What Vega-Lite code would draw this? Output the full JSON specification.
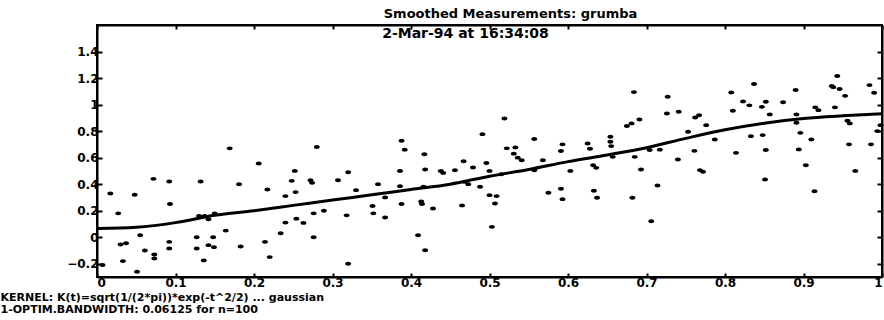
{
  "$schema": "https://vega.github.io/schema/vega-lite/v6.json",
  "width": 785,
  "height": 252,
  "autosize": {"type": "none"},
  "padding": {"left": 97, "top": 25, "right": 2, "bottom": 43},
  "background": "white",
  "title": {
    "text": "Smoothed Measurements: grumba",
    "anchor": "middle",
    "font": "DejaVu Sans",
    "fontSize": 13,
    "fontWeight": "bold",
    "color": "black",
    "dx": 21,
    "offset": 3
  },
  "config": {
    "view": {"stroke": "black", "strokeWidth": 2},
    "axis": {
      "grid": false,
      "domainColor": "black",
      "domainWidth": 2,
      "tickColor": "black",
      "tickWidth": 2,
      "labelFont": "DejaVu Sans",
      "labelFontWeight": "bold",
      "labelFontSize": 12,
      "labelColor": "black"
    }
  },
  "datasets": {
    "obs": [
      {"x": 0.007, "y": -0.21}, {"x": 0.017, "y": 0.33}, {"x": 0.027, "y": 0.18}, {"x": 0.030, "y": -0.055},
      {"x": 0.037, "y": -0.045}, {"x": 0.033, "y": -0.18}, {"x": 0.048, "y": 0.32}, {"x": 0.051, "y": -0.26},
      {"x": 0.055, "y": 0.015}, {"x": 0.061, "y": -0.10}, {"x": 0.073, "y": -0.13}, {"x": 0.073, "y": -0.16},
      {"x": 0.072, "y": 0.44}, {"x": 0.092, "y": 0.42}, {"x": 0.093, "y": 0.25}, {"x": 0.092, "y": -0.035},
      {"x": 0.092, "y": -0.085}, {"x": 0.127, "y": 0.0}, {"x": 0.127, "y": -0.085}, {"x": 0.13, "y": 0.16},
      {"x": 0.137, "y": 0.16}, {"x": 0.132, "y": 0.42}, {"x": 0.136, "y": -0.175}, {"x": 0.142, "y": 0.135},
      {"x": 0.15, "y": 0.18}, {"x": 0.148, "y": 0.0}, {"x": 0.142, "y": -0.06}, {"x": 0.149, "y": -0.075},
      {"x": 0.164, "y": 0.05}, {"x": 0.169, "y": 0.67}, {"x": 0.181, "y": 0.40}, {"x": 0.183, "y": -0.07},
      {"x": 0.206, "y": 0.556}, {"x": 0.217, "y": 0.36}, {"x": 0.214, "y": -0.035}, {"x": 0.22, "y": -0.15},
      {"x": 0.234, "y": 0.03}, {"x": 0.24, "y": 0.31}, {"x": 0.24, "y": 0.11}, {"x": 0.248, "y": 0.425},
      {"x": 0.252, "y": 0.50}, {"x": 0.253, "y": 0.34}, {"x": 0.254, "y": 0.14}, {"x": 0.263, "y": 0.108},
      {"x": 0.272, "y": 0.43}, {"x": 0.274, "y": 0.41}, {"x": 0.276, "y": 0.18}, {"x": 0.276, "y": 0.0},
      {"x": 0.28, "y": 0.68}, {"x": 0.289, "y": 0.2}, {"x": 0.307, "y": 0.43}, {"x": 0.318, "y": 0.165},
      {"x": 0.32, "y": 0.49}, {"x": 0.32, "y": -0.2}, {"x": 0.33, "y": 0.355}, {"x": 0.351, "y": 0.235},
      {"x": 0.352, "y": 0.18}, {"x": 0.358, "y": 0.40}, {"x": 0.367, "y": 0.30}, {"x": 0.367, "y": 0.149},
      {"x": 0.386, "y": 0.50}, {"x": 0.388, "y": 0.727}, {"x": 0.392, "y": 0.66}, {"x": 0.386, "y": 0.385},
      {"x": 0.388, "y": 0.25}, {"x": 0.409, "y": 0.015}, {"x": 0.418, "y": -0.098}, {"x": 0.413, "y": 0.27},
      {"x": 0.414, "y": 0.25}, {"x": 0.417, "y": 0.626}, {"x": 0.418, "y": 0.51}, {"x": 0.416, "y": 0.38},
      {"x": 0.428, "y": 0.216}, {"x": 0.438, "y": 0.50}, {"x": 0.441, "y": 0.485}, {"x": 0.456, "y": 0.505},
      {"x": 0.467, "y": 0.573}, {"x": 0.465, "y": 0.24}, {"x": 0.469, "y": 0.417}, {"x": 0.473, "y": 0.40},
      {"x": 0.479, "y": 0.526}, {"x": 0.488, "y": 0.38}, {"x": 0.491, "y": 0.777}, {"x": 0.496, "y": 0.56},
      {"x": 0.50, "y": 0.50}, {"x": 0.50, "y": 0.317}, {"x": 0.509, "y": 0.31}, {"x": 0.507, "y": 0.254},
      {"x": 0.503, "y": 0.078}, {"x": 0.515, "y": 0.475}, {"x": 0.519, "y": 0.895}, {"x": 0.522, "y": 0.67},
      {"x": 0.533, "y": 0.677}, {"x": 0.531, "y": 0.63}, {"x": 0.536, "y": 0.60}, {"x": 0.541, "y": 0.58},
      {"x": 0.557, "y": 0.74}, {"x": 0.557, "y": 0.505}, {"x": 0.568, "y": 0.58}, {"x": 0.575, "y": 0.335},
      {"x": 0.591, "y": 0.65}, {"x": 0.593, "y": 0.70}, {"x": 0.591, "y": 0.365}, {"x": 0.593, "y": 0.287},
      {"x": 0.603, "y": 0.50}, {"x": 0.625, "y": 0.707}, {"x": 0.628, "y": 0.667}, {"x": 0.632, "y": 0.543},
      {"x": 0.636, "y": 0.523}, {"x": 0.633, "y": 0.35}, {"x": 0.637, "y": 0.297}, {"x": 0.654, "y": 0.757},
      {"x": 0.654, "y": 0.72}, {"x": 0.655, "y": 0.687}, {"x": 0.657, "y": 0.606}, {"x": 0.675, "y": 0.838},
      {"x": 0.681, "y": 0.858}, {"x": 0.691, "y": 0.888}, {"x": 0.684, "y": 1.094}, {"x": 0.685, "y": 0.606},
      {"x": 0.693, "y": 0.51}, {"x": 0.682, "y": 0.297}, {"x": 0.706, "y": 0.12}, {"x": 0.714, "y": 0.39},
      {"x": 0.717, "y": 0.66}, {"x": 0.727, "y": 1.059}, {"x": 0.726, "y": 0.933}, {"x": 0.704, "y": 0.657},
      {"x": 0.741, "y": 0.946}, {"x": 0.740, "y": 0.586}, {"x": 0.753, "y": 0.795}, {"x": 0.761, "y": 0.651},
      {"x": 0.762, "y": 0.903}, {"x": 0.767, "y": 0.92}, {"x": 0.768, "y": 0.506}, {"x": 0.772, "y": 0.493},
      {"x": 0.776, "y": 0.845}, {"x": 0.787, "y": 0.737}, {"x": 0.808, "y": 1.092}, {"x": 0.81, "y": 0.953},
      {"x": 0.814, "y": 0.636}, {"x": 0.823, "y": 1.024}, {"x": 0.831, "y": 0.994}, {"x": 0.833, "y": 0.762},
      {"x": 0.837, "y": 1.155}, {"x": 0.847, "y": 0.983}, {"x": 0.852, "y": 1.021}, {"x": 0.848, "y": 0.77},
      {"x": 0.852, "y": 0.657}, {"x": 0.851, "y": 0.435}, {"x": 0.857, "y": 0.926}, {"x": 0.874, "y": 1.017},
      {"x": 0.890, "y": 1.11}, {"x": 0.891, "y": 0.926}, {"x": 0.891, "y": 0.863}, {"x": 0.896, "y": 0.787},
      {"x": 0.894, "y": 0.662}, {"x": 0.903, "y": 0.543}, {"x": 0.910, "y": 0.737}, {"x": 0.914, "y": 0.347},
      {"x": 0.915, "y": 0.979}, {"x": 0.919, "y": 0.958}, {"x": 0.936, "y": 1.14}, {"x": 0.938, "y": 1.13},
      {"x": 0.943, "y": 1.215}, {"x": 0.946, "y": 1.117}, {"x": 0.953, "y": 1.066}, {"x": 0.940, "y": 0.979},
      {"x": 0.956, "y": 0.878}, {"x": 0.959, "y": 0.858}, {"x": 0.958, "y": 0.70}, {"x": 0.966, "y": 0.50},
      {"x": 0.984, "y": 1.147}, {"x": 0.99, "y": 1.089}, {"x": 0.986, "y": 0.70}, {"x": 0.994, "y": 0.80},
      {"x": 0.998, "y": 0.845}
    ],
    "smooth": [
      {"x": 0.0, "y": 0.065}, {"x": 0.05, "y": 0.075}, {"x": 0.1, "y": 0.11}, {"x": 0.15, "y": 0.165},
      {"x": 0.2, "y": 0.2}, {"x": 0.25, "y": 0.24}, {"x": 0.3, "y": 0.28}, {"x": 0.35, "y": 0.32},
      {"x": 0.4, "y": 0.36}, {"x": 0.45, "y": 0.4}, {"x": 0.5, "y": 0.46}, {"x": 0.55, "y": 0.51},
      {"x": 0.6, "y": 0.57}, {"x": 0.65, "y": 0.62}, {"x": 0.7, "y": 0.675}, {"x": 0.75, "y": 0.745},
      {"x": 0.8, "y": 0.81}, {"x": 0.85, "y": 0.86}, {"x": 0.9, "y": 0.895}, {"x": 0.95, "y": 0.915},
      {"x": 1.0, "y": 0.93}
    ]
  },
  "layer": [
    {
      "data": {"name": "obs"},
      "mark": {
        "type": "point",
        "filled": true,
        "color": "black",
        "opacity": 1,
        "size": 36,
        "shape": "M-1,0 A1,0.65 0 1,0 1,0 A1,0.65 0 1,0 -1,0 Z"
      },
      "encoding": {
        "x": {
          "field": "x", "type": "quantitative",
          "scale": {"domain": [0, 1], "nice": false, "zero": false},
          "axis": {
            "orient": "bottom",
            "values": [0, 0.1, 0.2, 0.3, 0.4, 0.5, 0.6, 0.7, 0.8, 0.9, 1],
            "format": ".1~f",
            "tickSize": -4,
            "labelPadding": 4,
            "labelFlush": true,
            "title": ["KERNEL: K(t)=sqrt(1/(2*pi))*exp(-t^2/2) ... gaussian", "1-OPTIM.BANDWIDTH: 0.06125 for n=100"],
            "titleFont": "DejaVu Sans",
            "titleFontWeight": "bold",
            "titleFontSize": 11,
            "titleColor": "black",
            "titleAnchor": "start",
            "titleAlign": "left",
            "titleBaseline": "top",
            "titleLineHeight": 12,
            "titleX": -97,
            "titleY": 14
          }
        },
        "y": {
          "field": "y", "type": "quantitative",
          "scale": {"domain": [-0.3, 1.6], "nice": false, "zero": false},
          "axis": {
            "orient": "left",
            "values": [-0.2, 0, 0.2, 0.4, 0.6, 0.8, 1, 1.2, 1.4],
            "format": ".1~f",
            "tickSize": -5,
            "labelPadding": 4,
            "title": null
          }
        }
      }
    },
    {
      "data": {"name": "smooth"},
      "mark": {"type": "line", "color": "black", "strokeWidth": 3, "interpolate": "monotone"},
      "encoding": {
        "x": {
          "field": "x", "type": "quantitative",
          "axis": {
            "orient": "top",
            "values": [0, 0.1, 0.2, 0.3, 0.4, 0.5, 0.6, 0.7, 0.8, 0.9, 1],
            "labels": false,
            "tickSize": -4,
            "title": "2-Mar-94 at 16:34:08",
            "titleFont": "DejaVu Sans",
            "titleFontWeight": "bold",
            "titleFontSize": 14,
            "titleColor": "black",
            "titleAnchor": "start",
            "titleAlign": "center",
            "titleBaseline": "alphabetic",
            "titleX": 368,
            "titleY": 12
          }
        },
        "y": {
          "field": "y", "type": "quantitative",
          "axis": {"orient": "right", "values": [-0.2, 0, 0.2, 0.4, 0.6, 0.8, 1, 1.2, 1.4], "labels": false, "tickSize": -5, "title": null}
        }
      }
    }
  ],
  "resolve": {"axis": {"x": "independent", "y": "independent"}}
}
